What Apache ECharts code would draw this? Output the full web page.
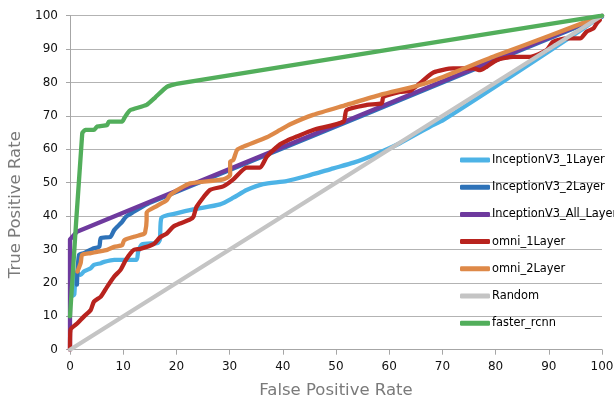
<!DOCTYPE html>
<html>
<head>
<meta charset="utf-8">
<script src="https://cdn.jsdelivr.net/npm/echarts@6/dist/echarts.min.js"></script>
<style>
html,body{margin:0;padding:0;background:#fff;}
#chart{width:614px;height:402px;}
</style>
</head>
<body>
<div id="chart"></div>
<script>
// ---- data ----
var seriesNames = ['InceptionV3_1Layer','InceptionV3_2Layer','InceptionV3_All_Layer','omni_1Layer','omni_2Layer','Random','faster_rcnn'];
var xTicks = [0,10,20,30,40,50,60,70,80,90,100];

var inceptionV3_1Layer = [[0.3,16],[0.8,16.5],[1.1,23],[2,22.4],[2.6,23.4],[3.9,24.4],[4.5,25.4],[5.8,25.9],[6.4,26.3],[8.3,26.9],[12.5,26.9],[12.8,29.3],[13.5,31.5],[16.5,32],[16.9,33],[17.2,39.5],[20,40.8],[23.2,42],[28.2,43.5],[30.7,45.5],[33.2,47.8],[36.3,49.6],[40.7,50.5],[44.5,52],[49.5,54.3],[53.3,56],[57.7,58.7],[62,61.8],[67.7,66.8],[70.2,68.8],[80,78.8],[90,89.3],[96.5,96.2],[100,100]];
var inceptionV3_2Layer = [[1.3,19.5],[1.7,28.4],[2.6,28.9],[4.5,30.4],[5.5,30.8],[5.8,33.4],[7.6,33.8],[8.3,35.8],[9.2,37.3],[9.8,38.3],[10.5,39.8],[12,41.3],[13.8,43],[15,44],[40,60.3],[70,80],[100,99.7]];
var inceptionV3_All_Layer = [[0,0],[0,33],[1.3,35.3],[100,100]];
var omni_1Layer = [[0,0],[0.1,6],[1.4,7.9],[2.6,9.9],[3.9,11.9],[4.5,14.4],[5.8,15.9],[7,18.9],[8.3,21.9],[9.5,23.9],[10.5,26.9],[11.4,28.9],[12,29.9],[13.2,30.2],[15.7,31.6],[16.9,33.6],[18.2,34.8],[19.4,36.8],[20.7,37.8],[22.6,39],[23.2,39.8],[23.8,42.8],[26.3,47.8],[28.8,48.9],[30.7,51],[33.2,54.5],[35.7,54.5],[37,57.8],[39.5,61.5],[40.7,62.5],[42.6,63.8],[45.7,65.8],[51.4,68.3],[52,71.8],[55.8,73.3],[58.6,73.8],[58.9,75.7],[62,77.2],[63.9,77.5],[65.8,79.8],[68.3,83],[72,84.2],[75.8,84.2],[77.1,83.7],[78.3,84.7],[80.2,86.7],[83.3,87.7],[86.5,87.7],[89.6,89.7],[90.8,92.2],[93.4,93.2],[95.9,93.2],[97.1,95.2],[98.4,96.2],[99,97.7],[99.6,98.7]];
var omni_2Layer = [[1.4,23.4],[2,25.9],[2.3,28.4],[3.9,28.9],[5.1,29.3],[7,29.9],[8.3,30.8],[9.8,31.3],[10.2,32.8],[12,33.8],[13.8,34.6],[14.1,35],[14.4,38.8],[14.4,41],[16.3,43],[18.2,44.8],[18.8,46.3],[20.7,48.3],[22.6,49.8],[28.8,51],[30.1,52.3],[30.1,56.3],[30.7,56.8],[31.4,59.8],[32.6,60.8],[37,63.6],[39.5,65.8],[41.4,67.5],[45.7,70.3],[52,73.3],[58.3,76.3],[64.5,78.7],[67.7,80.2],[80,88],[90,93.9],[100,100]];
var random = [[0,0],[100,100]];
var faster_rcnn = [[0,10],[2.3,64.8],[2.9,65.8],[4.5,65.8],[5.1,66.8],[7,67.3],[7.3,68.3],[9.8,68.3],[10.2,69.3],[10.8,70.8],[11.4,71.8],[14.4,73.3],[16,75.5],[18.2,78.7],[20,79.6],[100,100]];

var seriesData = [inceptionV3_1Layer, inceptionV3_2Layer, inceptionV3_All_Layer, omni_1Layer, omni_2Layer, random, faster_rcnn];
var colors = ['#4DB3E6','#2E72B8','#6E3A9E','#B8231E','#DE8948','#C4C4C4','#52AE5B'];
var smoothing = [0.2,0.2,0,0.2,0.2,0,0.15];

var FONT = 'DejaVu Sans';
var chart = echarts.init(document.getElementById('chart'));
var series = seriesNames.map(function(n,i){
  return {
    name:n, type:'line', data:seriesData[i], showSymbol:false, symbol:'none',
    smooth:smoothing[i], color:colors[i],
    lineStyle:{width:4.3,color:colors[i],cap:'round',join:'round'},
    emphasis:{disabled:true}
  };
});
chart.setOption({
  animation:false,
  color:colors,
  grid:{left:70,right:12,top:15.7,bottom:52.3,containLabel:false,outerBoundsMode:'none'},
  legend:{
    orient:'vertical', left:455, top:148, icon:'roundRect', itemWidth:30, itemHeight:5,
    itemGap:13.2, data:seriesNames,
    textStyle:{fontFamily:FONT,fontSize:11.4,color:'#000',lineHeight:14,padding:[0,0,0,-3]}
  },
  xAxis:{
    type:'value', min:0, max:100, interval:10,
    name:'False Positive Rate', nameLocation:'middle', nameGap:33,
    nameTextStyle:{fontFamily:FONT,fontSize:16.5,color:'#7A7A7A'},
    axisLine:{show:true,lineStyle:{color:'#A6A6A6',width:1}},
    axisTick:{show:true,length:5,lineStyle:{color:'#A6A6A6'}},
    axisLabel:{fontFamily:FONT,fontSize:12,color:'#111',margin:11},
    splitLine:{show:false}
  },
  yAxis:{
    type:'value', min:0, max:100, interval:10,
    name:'True Positive Rate', nameLocation:'middle', nameGap:40, nameRotate:90,
    nameTextStyle:{fontFamily:FONT,fontSize:16.5,color:'#7A7A7A',padding:[0,44,0,0]},
    axisLine:{show:true,lineStyle:{color:'#A6A6A6',width:1}},
    axisTick:{show:true,length:4,lineStyle:{color:'#A6A6A6'}},
    axisLabel:{fontFamily:FONT,fontSize:12,color:'#111',margin:12},
    splitLine:{show:true,lineStyle:{color:'#B3B3B3',width:1}}
  },
  series:series
});
</script>
</body>
</html>
